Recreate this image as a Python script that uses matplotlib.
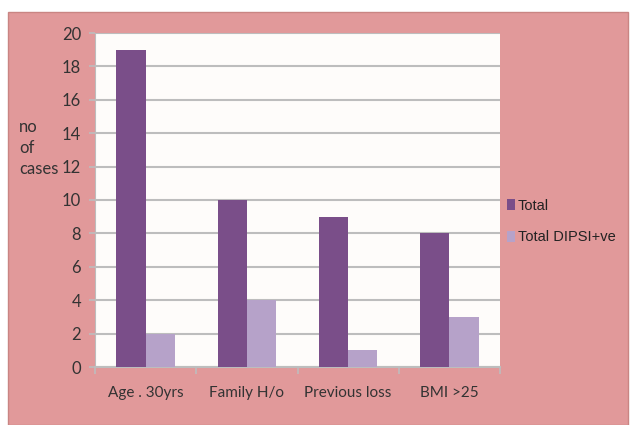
import matplotlib.pyplot as plt
import numpy as np
from matplotlib.patches import Rectangle

categories = ["Age . 30yrs", "Family H/o", "Previous loss", "BMI >25"]
total = [19, 10, 9, 8]
total_dipsi = [2, 4, 1, 3]
y_ticks = [0, 2, 4, 6, 8, 10, 12, 14, 16, 18, 20]

pink = "#E1999A"
dark = "#7A4E89"
light = "#B6A2C9"
grid_col = "#BDBDBD"

fig = plt.figure(figsize=(6.31, 4.25), dpi=100)
fig.patch.set_facecolor("white")
fig.patches.append(Rectangle((8 / 631, 0), 620 / 631, 413 / 425,
                             transform=fig.transFigure, facecolor=pink,
                             edgecolor="#C98583", linewidth=1, zorder=-5))

ax = fig.add_axes([95 / 631, 58 / 425, 405 / 631, 334 / 425])
ax.set_facecolor("#FEFCFA")

x = np.arange(len(categories))
w = 0.29
ax.bar(x - w / 2, total, w, color=dark, label="Total", zorder=3)
ax.bar(x + w / 2, total_dipsi, w, color=light, label="Total DIPSI+ve", zorder=3)

ax.set_ylim(0, 20)
ax.set_xlim(-0.5, 3.5)
ax.set_yticks(y_ticks)
ax.yaxis.grid(True, color=grid_col, linewidth=1.5, zorder=1)
ax.set_axisbelow(True)

ax.set_xticks(x)
ax.set_xticklabels(categories, fontsize=11, family="Lato", color="#333333")
ax.set_xticks(np.arange(-0.5, 4, 1), minor=True)
ax.tick_params(axis="x", which="major", length=0, pad=14)
ax.tick_params(axis="x", which="minor", length=5, color=grid_col, width=1.2)
ax.tick_params(axis="y", length=4, color=grid_col, width=1.2, labelsize=12,
               labelcolor="#333333", pad=6)
for lab in ax.get_yticklabels():
    lab.set_family("Lato")

for s in ["top", "right"]:
    ax.spines[s].set_visible(False)
ax.spines["left"].set_color(grid_col)
ax.spines["bottom"].set_color(grid_col)
ax.spines["bottom"].set_linewidth(1.5)

fig.text(19 / 631, 1 - 148 / 425, "no\nof\ncases", fontsize=12, family="Lato",
         color="#333333", ha="left", va="center", linespacing=1.35)

leg = ax.legend(loc="upper left", bbox_to_anchor=(0.995, 0.53), frameon=False,
                prop={"family": "Liberation Sans", "size": 10.5},
                handlelength=0.6, handleheight=0.8, handletextpad=0.15,
                labelspacing=1.2, borderaxespad=0.2)
for t in leg.get_texts():
    t.set_color("#222222")

fig.savefig("out.png", dpi=100)
